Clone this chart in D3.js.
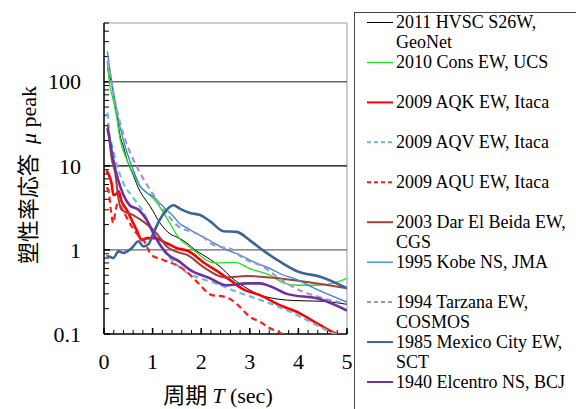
<!DOCTYPE html>
<html>
<head>
<meta charset="utf-8">
<script src="https://cdn.jsdelivr.net/npm/d3@7"></script>
<style>
  body { margin: 0; background: #fff; }
  svg { display: block; }
  .serif { font-family: "Liberation Serif", "DejaVu Serif", serif; }
  .cjk { font-family: "Noto Sans CJK JP", sans-serif; }
</style>
</head>
<body>
<svg id="mainsvg" width="576" height="409"></svg>
<script>
// [period T (sec), mu peak] pairs
const hvsc = [[0.07,150],[0.1,125],[0.16,92],[0.26,42],[0.33,23],[0.4,17],[0.47,12],[0.6,7.8],[0.74,5.0],[0.81,4.3],[0.95,3.3],[1.15,2.1],[1.36,1.55],[1.5,1.42],[1.73,1.18],[1.87,1.0],[2.0,0.9],[2.39,0.63],[2.66,0.45],[2.94,0.35],[3.21,0.29],[3.42,0.27],[3.9,0.25],[4.5,0.245],[5.0,0.225]];
const cons = [[0.07,170],[0.12,90],[0.16,72],[0.26,38],[0.33,21],[0.47,11.8],[0.6,8.2],[0.74,5.7],[0.88,4.8],[1.05,3.9],[1.29,2.4],[1.56,1.35],[1.73,1.12],[1.87,0.97],[2.18,0.72],[2.3,0.7],[2.7,0.71],[3.0,0.6],[3.42,0.5],[3.72,0.4],[4.0,0.38],[4.37,0.38],[4.7,0.4],[5.0,0.46]];
const aqk = [[0.05,8.8],[0.09,8.0],[0.16,6.0],[0.19,4.5],[0.26,4.7],[0.3,5.0],[0.36,3.8],[0.47,3.0],[0.57,2.27],[0.67,1.73],[0.78,1.31],[0.88,1.38],[1.05,1.38],[1.29,1.2],[1.5,1.05],[1.73,0.97],[2.08,0.69],[2.39,0.53],[2.59,0.44],[2.87,0.34],[3.21,0.29],[3.62,0.22],[4.03,0.176],[4.44,0.128],[4.79,0.1],[5.0,0.09]];
const aqv = [[0.07,43],[0.12,22],[0.16,18],[0.26,10.5],[0.4,6.2],[0.6,4.2],[0.81,2.8],[0.98,1.75],[1.22,1.0],[1.36,0.8],[1.7,0.54],[1.98,0.46],[2.3,0.4],[2.66,0.33],[3.0,0.28],[3.42,0.23],[3.9,0.176],[4.37,0.128],[4.75,0.1],[5.0,0.09]];
const aqu = [[0.05,5.5],[0.09,5.2],[0.14,3.0],[0.19,2.1],[0.24,3.0],[0.29,3.6],[0.4,2.86],[0.57,1.9],[0.7,1.5],[0.81,1.31],[0.98,0.87],[1.22,0.76],[1.56,0.63],[1.7,0.55],[1.91,0.42],[2.22,0.29],[2.45,0.28],[2.6,0.26],[2.76,0.22],[3.0,0.16],[3.21,0.14],[3.38,0.12],[3.52,0.11],[3.75,0.095]];
const darElBeida = [[0.08,31],[0.12,18],[0.16,12],[0.23,8.2],[0.3,4.0],[0.36,3.0],[0.6,2.6],[0.81,2.17],[1.08,1.58],[1.29,1.1],[1.43,0.98],[1.73,0.86],[2.04,0.63],[2.49,0.47],[2.94,0.49],[3.42,0.47],[4.0,0.43],[4.5,0.39],[5.0,0.35]];
const kobe = [[0.07,230],[0.1,170],[0.16,100],[0.26,45],[0.4,20],[0.6,9],[0.74,5.8],[0.88,4.8],[1.02,4.3],[1.15,3.6],[1.29,3.0],[1.43,2.5],[1.56,2.05],[1.73,1.8],[1.87,1.6],[2.12,1.35],[2.25,1.22],[2.53,1.0],[2.8,0.87],[3.08,0.72],[3.42,0.6],[3.7,0.5],[3.9,0.46],[4.38,0.34],[5.0,0.24]];
const tarzana = [[0.07,180],[0.1,150],[0.16,95],[0.26,48],[0.43,21],[0.6,12],[0.81,7],[1.01,4.6],[1.29,2.7],[1.56,1.85],[1.73,1.7],[1.98,1.5],[2.25,1.15],[2.66,1.0],[2.8,0.85],[3.08,0.7],[3.21,0.66],[3.56,0.48],[3.9,0.36],[4.38,0.28],[5.0,0.23]];
const mexicoCity = [[0.05,0.84],[0.12,0.83],[0.19,0.8],[0.3,0.96],[0.4,0.92],[0.57,1.05],[0.71,1.27],[0.81,1.1],[0.92,1.18],[1.02,1.6],[1.15,2.3],[1.29,3.0],[1.43,3.4],[1.56,3.1],[1.77,2.75],[1.98,2.6],[2.18,2.2],[2.46,1.67],[2.73,1.64],[3.0,1.3],[3.28,0.98],[3.63,0.72],[4.0,0.55],[4.45,0.48],[5.0,0.35]];
const elcentro = [[0.07,28],[0.12,20],[0.19,11.8],[0.29,6.8],[0.4,4.5],[0.53,3.4],[0.71,3.0],[0.88,2.27],[1.05,1.44],[1.29,0.91],[1.56,0.72],[1.77,0.58],[2.18,0.46],[2.52,0.38],[2.94,0.4],[3.21,0.4],[3.42,0.37],[3.76,0.3],[4.44,0.26],[5.0,0.19]];

const seriesData = [hvsc, cons, aqk, aqv, aqu, darElBeida, kobe, tarzana, mexicoCity, elcentro];
const seriesNames = [
  ["2011 HVSC S26W,", "GeoNet"],
  ["2010 Cons EW, UCS"],
  ["2009 AQK EW, Itaca"],
  ["2009 AQV EW, Itaca"],
  ["2009 AQU EW, Itaca"],
  ["2003 Dar El Beida EW,", "CGS"],
  ["1995 Kobe NS, JMA"],
  ["1994 Tarzana EW,", "COSMOS"],
  ["1985 Mexico City EW,", "SCT"],
  ["1940 Elcentro NS, BCJ"]
];
const yTicks = [0.1, 1, 10, 100];
const xTicks = [0, 1, 2, 3, 4, 5];

// line styles, same order as the series
const styles = [
  { color: "#000000", w: 1,   dash: null },
  { color: "#19e619", w: 1.3, dash: null },
  { color: "#ff0000", w: 2.6, dash: null },
  { color: "#6fb6d8", w: 2.2, dash: "6,4" },
  { color: "#ff1a1a", w: 2.2, dash: "6,4" },
  { color: "#a0413c", w: 2,   dash: null },
  { color: "#2b8bd3", w: 1.3, dash: null },
  { color: "#a294c9", w: 2.2, dash: "6,4" },
  { color: "#3d6594", w: 2.6, dash: null },
  { color: "#7030a0", w: 2.6, dash: null }
];

const svg = d3.select("#mainsvg");
const pLeft = 104, pRight = 347, pTop = 23, pBottom = 334;

const x = d3.scaleLinear().domain([0, 5]).range([pLeft, pRight]);
const y = d3.scaleLog().domain([0.1, 500]).range([pBottom, pTop]);

// frame top / right (light gray)
svg.append("line").attr("x1", pLeft).attr("x2", pRight).attr("y1", pTop).attr("y2", pTop)
  .attr("stroke", "#bdbdbd").attr("stroke-width", 1.5);
svg.append("line").attr("x1", pRight).attr("x2", pRight).attr("y1", pTop).attr("y2", pBottom)
  .attr("stroke", "#bdbdbd").attr("stroke-width", 1.5);

// horizontal gridlines
svg.append("g").selectAll("line").data([1, 10, 100]).join("line")
  .attr("x1", pLeft).attr("x2", pRight)
  .attr("y1", d => y(d)).attr("y2", d => y(d))
  .attr("stroke", d => d === 10 ? "#000" : "#666")
  .attr("stroke-width", 1.3);

// y minor ticks (inside)
const minorY = [];
[0.1, 1, 10, 100].forEach(b => { for (let k = 2; k <= 9; k++) { if (b * k <= 500) minorY.push(b * k); } });
svg.append("g").selectAll("line").data(minorY).join("line")
  .attr("x1", pLeft).attr("x2", pLeft + 5)
  .attr("y1", d => y(d)).attr("y2", d => y(d))
  .attr("stroke", "#000").attr("stroke-width", 1);
svg.append("g").selectAll("line").data(yTicks).join("line")
  .attr("x1", pLeft).attr("x2", pLeft + 6)
  .attr("y1", d => y(d)).attr("y2", d => y(d))
  .attr("stroke", "#000").attr("stroke-width", 1.5);

// x ticks (inside)
const minorX = d3.range(0, 5.01, 0.2);
svg.append("g").selectAll("line").data(minorX).join("line")
  .attr("x1", d => x(d)).attr("x2", d => x(d))
  .attr("y1", pBottom).attr("y2", pBottom - 4)
  .attr("stroke", "#000").attr("stroke-width", 1);
svg.append("g").selectAll("line").data(xTicks).join("line")
  .attr("x1", d => x(d)).attr("x2", d => x(d))
  .attr("y1", pBottom).attr("y2", pBottom - 6)
  .attr("stroke", "#000").attr("stroke-width", 1.5);

// axis lines
svg.append("line").attr("x1", pLeft).attr("x2", pLeft).attr("y1", pTop).attr("y2", pBottom)
  .attr("stroke", "#000").attr("stroke-width", 1.5);
svg.append("line").attr("x1", pLeft).attr("x2", pRight).attr("y1", pBottom).attr("y2", pBottom)
  .attr("stroke", "#000").attr("stroke-width", 1.5);

// tick labels
svg.append("g").selectAll("text").data(yTicks).join("text")
  .attr("class", "serif")
  .attr("x", 81).attr("y", d => y(d)).attr("dy", "0.35em")
  .attr("text-anchor", "end")
  .attr("font-size", 22)
  .text(d => d3.format("~g")(d));
svg.append("g").selectAll("text").data(xTicks).join("text")
  .attr("class", "serif")
  .attr("x", d => x(d)).attr("y", 369)
  .attr("text-anchor", "middle")
  .attr("font-size", 22)
  .text(d => d);

// curves
svg.append("defs").append("clipPath").attr("id", "plotClip")
  .append("rect").attr("x", pLeft).attr("y", pTop).attr("width", pRight - pLeft).attr("height", pBottom - pTop);

const line = d3.line().x(d => x(d[0])).y(d => y(d[1])).curve(d3.curveMonotoneX);
const curves = svg.append("g").attr("clip-path", "url(#plotClip)");
seriesData.forEach((s, i) => {
  curves.append("path")
    .datum(s)
    .attr("d", line)
    .attr("fill", "none")
    .attr("stroke", styles[i].color)
    .attr("stroke-width", styles[i].w)
    .attr("stroke-dasharray", styles[i].dash)
    .attr("stroke-linejoin", "round");
});

// axis titles
const yt = svg.append("text")
  .attr("transform", "translate(36,175) rotate(-90)")
  .attr("text-anchor", "middle")
  .attr("font-size", 22);
yt.append("tspan").attr("class", "cjk").text("塑性率応答");
yt.append("tspan").attr("class", "serif").attr("dx", 10).attr("font-style", "italic").text("μ");
yt.append("tspan").attr("class", "serif").text(" peak");

const xt = svg.append("text")
  .attr("x", 218).attr("y", 403)
  .attr("text-anchor", "middle")
  .attr("font-size", 22);
xt.append("tspan").attr("class", "cjk").text("周期 ");
xt.append("tspan").attr("class", "serif").attr("font-style", "italic").text("T");
xt.append("tspan").attr("class", "serif").text(" (sec)");

// legend
const lg = svg.append("g");
lg.append("rect").attr("x", 354.5).attr("y", 12.5).attr("width", 240).attr("height", 420)
  .attr("fill", "none").attr("stroke", "#444").attr("stroke-width", 1);
const legendY = d3.scaleLinear().domain([0, 9]).range([22.5, 382]);
seriesNames.forEach((name, i) => {
  const ly = legendY(i);
  lg.append("line").attr("x1", 367).attr("x2", 393).attr("y1", ly).attr("y2", ly)
    .attr("stroke", styles[i].color)
    .attr("stroke-width", Math.min(styles[i].w, 2))
    .attr("stroke-dasharray", styles[i].dash ? "4,3" : null);
  name.forEach((t, j) => {
    lg.append("text").attr("class", "serif")
      .attr("x", 396).attr("y", ly + j * 20).attr("dy", "0.33em")
      .attr("font-size", 18)
      .text(t);
  });
});
</script>
</body>
</html>
